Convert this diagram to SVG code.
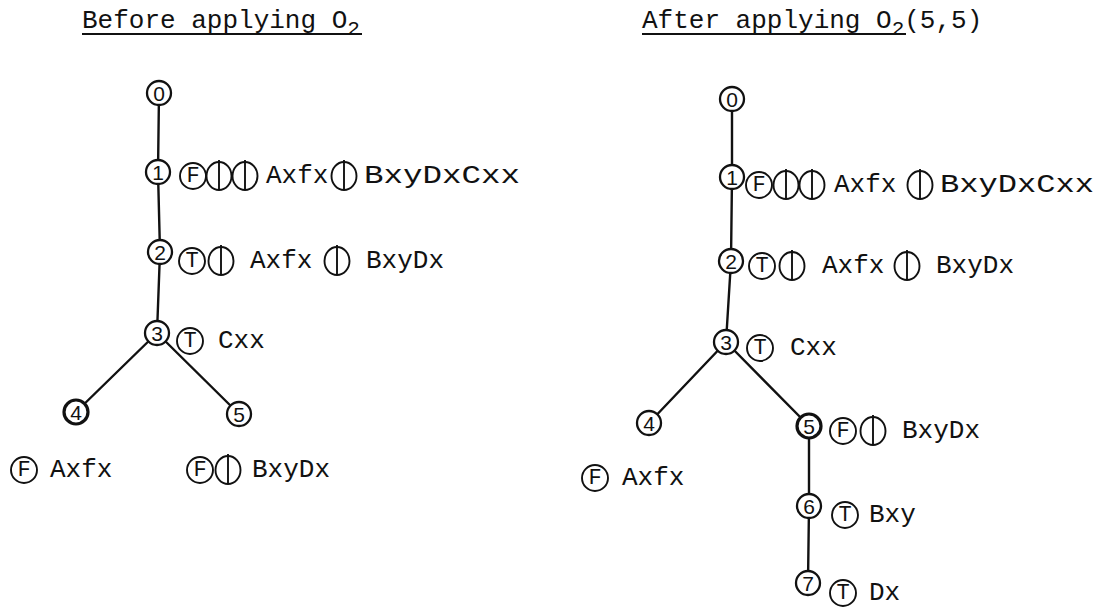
<svg xmlns="http://www.w3.org/2000/svg" xmlns:xlink="http://www.w3.org/1999/xlink" width="1106" height="607" viewBox="0 0 1106 607">
  <style>
    .bg { fill: #ffffff; }
    .edge { stroke: #111; stroke-width: 2.4; fill: none; stroke-linecap: round; }
    .node { fill: #fff; stroke: #111; stroke-width: 2.3; }
    .node.bold { stroke-width: 3.2; }
    .num { font-family: "Liberation Sans", "DejaVu Sans", sans-serif; font-size: 21px; fill: #111; text-anchor: middle; dominant-baseline: central; }
    .ring { fill: none; stroke: #111; stroke-width: 1.9; }
    .tv { font-family: "Liberation Mono", "DejaVu Sans Mono", monospace; font-size: 22px; fill: #111; text-anchor: middle; dominant-baseline: central; }
    .lbl { font-family: "Liberation Mono", "DejaVu Sans Mono", monospace; font-size: 26px; fill: #111; dominant-baseline: central; }
    .title { font-family: "Liberation Mono", "DejaVu Sans Mono", monospace; font-size: 26px; fill: #111; }
    .sub { font-size: 21px; }
    .uline { stroke: #111; stroke-width: 2; }
  </style>
  <defs>
    <!-- circle split by a vertical stroke -->
    <g id="bar">
      <ellipse class="ring" cx="0" cy="0" rx="12.5" ry="14"/>
      <line class="ring" x1="0" y1="-16" x2="0" y2="14"/>
    </g>
    <!-- plain ring used for the circled truth values -->
    <circle id="ring" class="ring" cx="0" cy="0" r="13"/>
  </defs>

  <rect class="bg" x="0" y="0" width="1106" height="607"/>

  <!-- headings -->
  <g id="title-before">
    <text class="title" x="82" y="28">Before applying O<tspan class="sub" dy="7">2</tspan></text>
    <line class="uline" x1="82" y1="34" x2="362" y2="34"/>
  </g>
  <g id="title-after">
    <text class="title" x="642" y="28">After applying O<tspan class="sub" dy="7">2</tspan><tspan dy="-7">(5,5)</tspan></text>
    <line class="uline" x1="642" y1="34" x2="906" y2="34"/>
  </g>

  <!-- connectors -->
  <g id="connectors">
    <line class="edge" x1="159" y1="93" x2="158" y2="172"/>
    <line class="edge" x1="158" y1="172" x2="160" y2="252"/>
    <line class="edge" x1="160" y1="252" x2="157" y2="333"/>
    <line class="edge" x1="157" y1="333" x2="76" y2="412"/>
    <line class="edge" x1="157" y1="333" x2="239" y2="414"/>

    <line class="edge" x1="732" y1="99" x2="732" y2="177"/>
    <line class="edge" x1="732" y1="177" x2="731" y2="261"/>
    <line class="edge" x1="731" y1="261" x2="726" y2="342"/>
    <line class="edge" x1="726" y1="342" x2="649" y2="423"/>
    <line class="edge" x1="726" y1="342" x2="809" y2="426"/>
    <line class="edge" x1="809" y1="426" x2="809" y2="506"/>
    <line class="edge" x1="809" y1="506" x2="808" y2="583"/>
  </g>

  <!-- left tree -->
  <g id="L0">
    <circle class="node" cx="159" cy="93" r="12"/>
    <text class="num" x="159" y="93">0</text>
  </g>
  <g id="L1">
    <circle class="node" cx="158" cy="172" r="12"/>
    <text class="num" x="158" y="172">1</text>
    <use xlink:href="#ring" x="193" y="176"/>
    <text class="tv" x="193" y="176">F</text>
    <use xlink:href="#bar" x="219" y="176"/>
    <use xlink:href="#bar" x="245" y="176"/>
    <text class="lbl" x="266" y="176">Axfx</text>
    <use xlink:href="#bar" x="344" y="176"/>
    <text class="lbl" x="364" y="176" textLength="156" lengthAdjust="spacingAndGlyphs">BxyDxCxx</text>
  </g>
  <g id="L2">
    <circle class="node" cx="160" cy="252" r="12"/>
    <text class="num" x="160" y="252">2</text>
    <use xlink:href="#ring" x="192" y="261"/>
    <text class="tv" x="192" y="261">T</text>
    <use xlink:href="#bar" x="221" y="261"/>
    <text class="lbl" x="250" y="261">Axfx</text>
    <use xlink:href="#bar" x="337" y="261"/>
    <text class="lbl" x="366" y="261">BxyDx</text>
  </g>
  <g id="L3">
    <circle class="node" cx="157" cy="333" r="12"/>
    <text class="num" x="157" y="333">3</text>
    <use xlink:href="#ring" x="190" y="341"/>
    <text class="tv" x="190" y="341">T</text>
    <text class="lbl" x="218" y="341">Cxx</text>
  </g>
  <g id="L4">
    <circle class="node bold" cx="76" cy="412" r="12"/>
    <text class="num" x="76" y="412">4</text>
    <use xlink:href="#ring" x="24" y="470"/>
    <text class="tv" x="24" y="470">F</text>
    <text class="lbl" x="50" y="470">Axfx</text>
  </g>
  <g id="L5">
    <circle class="node" cx="239" cy="414" r="12"/>
    <text class="num" x="239" y="414">5</text>
    <use xlink:href="#ring" x="200" y="470"/>
    <text class="tv" x="200" y="470">F</text>
    <use xlink:href="#bar" x="228" y="470"/>
    <text class="lbl" x="252" y="470">BxyDx</text>
  </g>

  <!-- right tree -->
  <g id="R0">
    <circle class="node" cx="732" cy="99" r="12"/>
    <text class="num" x="732" y="99">0</text>
  </g>
  <g id="R1">
    <circle class="node" cx="732" cy="177" r="12"/>
    <text class="num" x="732" y="177">1</text>
    <use xlink:href="#ring" x="759" y="185"/>
    <text class="tv" x="759" y="185">F</text>
    <use xlink:href="#bar" x="786" y="185"/>
    <use xlink:href="#bar" x="812" y="185"/>
    <text class="lbl" x="834" y="185">Axfx</text>
    <use xlink:href="#bar" x="920" y="185"/>
    <text class="lbl" x="940" y="185" textLength="154" lengthAdjust="spacingAndGlyphs">BxyDxCxx</text>
  </g>
  <g id="R2">
    <circle class="node" cx="731" cy="261" r="12"/>
    <text class="num" x="731" y="261">2</text>
    <use xlink:href="#ring" x="762" y="266"/>
    <text class="tv" x="762" y="266">T</text>
    <use xlink:href="#bar" x="792" y="266"/>
    <text class="lbl" x="822" y="266">Axfx</text>
    <use xlink:href="#bar" x="907" y="266"/>
    <text class="lbl" x="936" y="266">BxyDx</text>
  </g>
  <g id="R3">
    <circle class="node" cx="726" cy="342" r="12"/>
    <text class="num" x="726" y="342">3</text>
    <use xlink:href="#ring" x="760" y="348"/>
    <text class="tv" x="760" y="348">T</text>
    <text class="lbl" x="790" y="348">Cxx</text>
  </g>
  <g id="R4">
    <circle class="node" cx="649" cy="423" r="12"/>
    <text class="num" x="649" y="423">4</text>
    <use xlink:href="#ring" x="595" y="478"/>
    <text class="tv" x="595" y="478">F</text>
    <text class="lbl" x="622" y="478">Axfx</text>
  </g>
  <g id="R5">
    <circle class="node bold" cx="809" cy="426" r="12"/>
    <text class="num" x="809" y="426">5</text>
    <use xlink:href="#ring" x="843" y="431"/>
    <text class="tv" x="843" y="431">F</text>
    <use xlink:href="#bar" x="873" y="431"/>
    <text class="lbl" x="902" y="431">BxyDx</text>
  </g>
  <g id="R6">
    <circle class="node" cx="809" cy="506" r="12"/>
    <text class="num" x="809" y="506">6</text>
    <use xlink:href="#ring" x="845" y="515"/>
    <text class="tv" x="845" y="515">T</text>
    <text class="lbl" x="869" y="515">Bxy</text>
  </g>
  <g id="R7">
    <circle class="node" cx="808" cy="583" r="12"/>
    <text class="num" x="808" y="583">7</text>
    <use xlink:href="#ring" x="843" y="593"/>
    <text class="tv" x="843" y="593">T</text>
    <text class="lbl" x="869" y="593">Dx</text>
  </g>
</svg>
